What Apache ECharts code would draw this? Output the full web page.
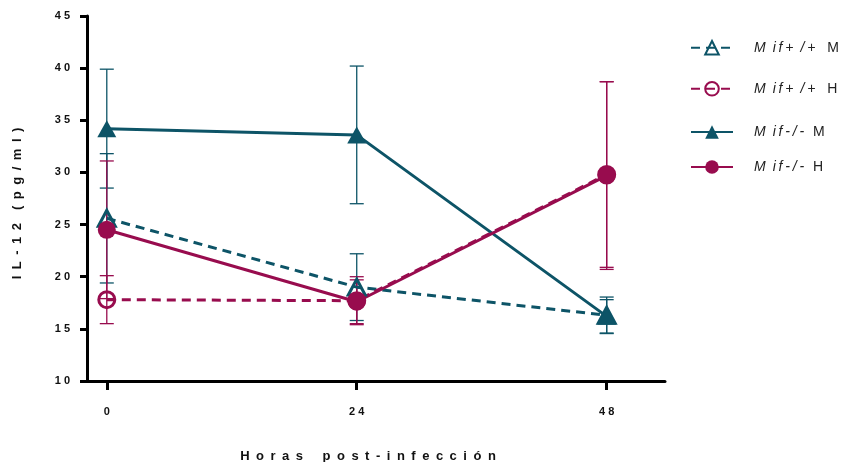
<!DOCTYPE html>
<html>
<head>
<meta charset="utf-8">
<script src="https://cdn.jsdelivr.net/npm/echarts@6/dist/echarts.min.js"></script>
<style>
  html, body { margin: 0; padding: 0; background: #ffffff; }
  #chart { width: 845px; height: 462px; }
</style>
</head>
<body>
<div id="chart"></div>
<script>
// Sampling times (hours post-infection)
const hours = [0, 24, 48];
const xTickValues = [0, 24, 48];

// IL-12 (pg/ml): means and their error (±)
const wtM = [25.6, 19.0, 16.3];
const wtMErr = [6.2, 3.2, 1.75];
const wtH = [17.8, 17.7, 29.8];
const wtHErr = [2.3, 2.3, 8.9];
const koM = [34.2, 33.6, 16.2];
const koMErr = [5.7, 6.6, 1.6];
const koH = [24.5, 17.6, 29.7];
const koHErr = [6.6, 2.1, 9.0];

// Series names and their legend text (genotype in italics, cell type upright)
const seriesNames = ['Mif+/+ M', 'Mif+/+ H', 'Mif-/- M', 'Mif-/- H'];
const legendGenotype = [
  'M\u2002i\u2009f\u2009+\u2002/\u2009+',
  'M\u2002i\u2009f\u2009+\u2002/\u2009+',
  'M\u2002i\u2009f\u2009-\u2009/\u2009-',
  'M\u2002i\u2009f\u2009-\u2009/\u2009-'
];
const legendCell = ['M', 'H', 'M', 'H'];

const TEAL = '#0d5467';
const MAGENTA = '#980c4e';
const FONT = '"Liberation Sans", Arial, sans-serif';

// Spread characters apart, as in the original typesetting
const spaced = (s, sep, wordSep) => s.split(' ').map(w => w.split('').join(sep)).join(wordSep);

const groups = [
  { name: seriesNames[0], mean: wtM, err: wtMErr, color: TEAL, dashed: true, symbol: 'triangle', open: true, size: [17, 16] },
  { name: seriesNames[1], mean: wtH, err: wtHErr, color: MAGENTA, dashed: true, symbol: 'circle', open: true, size: 16 },
  { name: seriesNames[2], mean: koM, err: koMErr, color: TEAL, dashed: false, symbol: 'triangle', open: false, size: [19, 17] },
  { name: seriesNames[3], mean: koH, err: koHErr, color: MAGENTA, dashed: false, symbol: 'circle', open: false, size: 18 }
];

const series = [];
groups.forEach(g => {
  // Error bars: vertical whisker with caps
  series.push({
    type: 'custom',
    name: g.name + ' err',
    z: 1,
    silent: true,
    data: hours.map((h, i) => [h, g.mean[i] - g.err[i], g.mean[i] + g.err[i]]),
    renderItem: (params, api) => {
      const x = api.value(0);
      const lo = api.coord([x, api.value(1)]);
      const hi = api.coord([x, api.value(2)]);
      const half = 7;
      const style = { stroke: g.color, lineWidth: 1.3, fill: null };
      return {
        type: 'group',
        children: [
          { type: 'line', shape: { x1: lo[0], y1: lo[1], x2: hi[0], y2: hi[1] }, style },
          { type: 'line', shape: { x1: lo[0] - half, y1: lo[1], x2: lo[0] + half, y2: lo[1] }, style },
          { type: 'line', shape: { x1: hi[0] - half, y1: hi[1], x2: hi[0] + half, y2: hi[1] }, style }
        ]
      };
    }
  });
  series.push({
    type: 'line',
    name: g.name,
    z: 3,
    data: hours.map((h, i) => [h, g.mean[i]]),
    symbol: g.symbol,
    symbolSize: g.size,
    showSymbol: true,
    lineStyle: { color: g.color, width: 3, type: g.dashed ? [9, 6] : 'solid' },
    itemStyle: g.open
      ? { color: 'rgba(255,255,255,0)', borderColor: g.color, borderWidth: 3 }
      : { color: g.color, borderColor: g.color, borderWidth: 0 },
    emphasis: { disabled: true },
    animation: false
  });
});

// One legend block per series so each row sits at its own height
const legendTops = [35, 76, 120, 155];
const legends = groups.map((g, gi) => ({
  data: [g.name],
  left: 685,
  top: legendTops[gi],
  itemWidth: 42,
  itemHeight: 17,
  selectedMode: false,
  formatter: () => '{gen|' + legendGenotype[gi] + '}{cell|' + legendCell[gi] + '}',
  textStyle: {
    rich: {
      gen: { fontFamily: FONT, fontSize: 14, fontStyle: 'italic', color: '#222', padding: [0, gi < 2 ? 12 : 9, 0, 16] },
      cell: { fontFamily: FONT, fontSize: 14, color: '#222' }
    }
  }
}));

const chart = echarts.init(document.getElementById('chart'), null, { renderer: 'canvas' });
chart.setOption({
  animation: false,
  backgroundColor: '#ffffff',
  grid: { left: 87, right: 180, top: 16, bottom: 81, containLabel: false, outerBoundsMode: 'none' },
  legend: legends,
  xAxis: {
    type: 'value',
    min: -1.9,
    max: 53.6,
    name: spaced('Horas post-infección', '\u2002', '\u2002\u2002\u2002'),
    nameLocation: 'middle',
    nameGap: 69,
    nameTextStyle: { fontFamily: FONT, fontSize: 13, fontWeight: 'bold', color: '#111', padding: [0, 16, 0, 0] },
    axisLine: { show: true, onZero: false, lineStyle: { color: '#000', width: 3 } },
    axisTick: { show: true, customValues: xTickValues, length: 9, lineStyle: { color: '#000', width: 3 } },
    axisLabel: {
      customValues: xTickValues,
      margin: 25,
      formatter: v => spaced(String(v), ' ', ' '),
      fontFamily: FONT, fontSize: 11, fontWeight: 'bold', color: '#111'
    },
    splitLine: { show: false }
  },
  yAxis: {
    type: 'value',
    min: 10,
    max: 45,
    interval: 5,
    name: spaced('IL-12 (pg/ml)', '\u2002', '\u2002\u2002'),
    nameLocation: 'middle',
    nameGap: 63,
    nameTextStyle: { fontFamily: FONT, fontSize: 13, fontWeight: 'bold', color: '#111', padding: [0, 10, 0, 0] },
    axisLine: { show: true, onZero: false, lineStyle: { color: '#000', width: 3 } },
    axisTick: { show: true, length: 7, lineStyle: { color: '#000', width: 3 } },
    axisLabel: {
      margin: 17,
      formatter: v => spaced(String(v), ' ', ' '),
      fontFamily: FONT, fontSize: 11, fontWeight: 'bold', color: '#111'
    },
    splitLine: { show: false }
  },
  series
});
</script>
</body>
</html>
